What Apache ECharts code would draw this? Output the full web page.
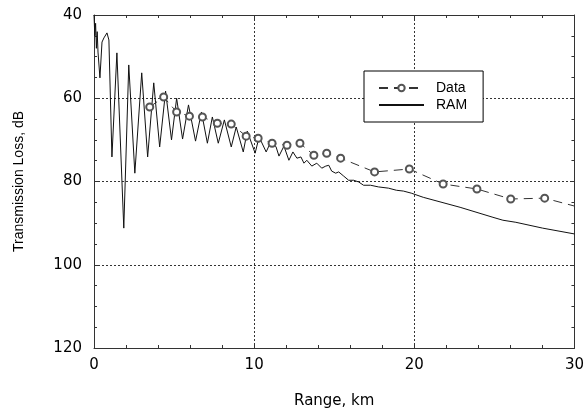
<!DOCTYPE html>
<html>
<head>
<meta charset="utf-8">
<script src="https://cdn.jsdelivr.net/npm/echarts@6/dist/echarts.min.js"></script>
<style>
    html, body { margin: 0; padding: 0; background: #fff; }
    #tlChart { width: 587px; height: 417px; }
</style>
</head>
<body>
<div id="tlChart"></div>
<script>
// measured points (range km / transmission loss dB)
var dataRange = [3.48, 4.35, 5.16, 5.96, 6.77, 7.70, 8.57, 9.50, 10.25, 11.12, 12.05, 12.86,
    13.73, 14.53, 15.40, 17.52, 19.69, 21.80, 23.91, 26.02, 28.14, 30.0];
var dataLoss = [62.1, 59.7, 63.3, 64.3, 64.5, 66.0, 66.2, 69.1, 69.6, 70.8, 71.3, 70.8,
    73.7, 73.2, 74.4, 77.7, 77.0, 80.6, 81.8, 84.2, 84.0, 85.9];

// RAM model curve
var ramRange = [0.0, 0.05, 0.1, 0.15, 0.2, 0.25, 0.37, 0.50, 0.62, 0.81, 0.93, 1.12, 1.43, 1.55,
    1.86, 2.17, 2.55, 2.98, 3.35, 3.73, 4.10, 4.47, 4.84, 5.16, 5.53, 5.90, 6.34, 6.71, 7.08,
    7.39, 7.76, 8.14, 8.57, 8.88, 9.32, 9.57, 10.06, 10.31, 10.75, 11.06, 11.37, 11.55, 11.86,
    12.17, 12.42, 12.67, 12.92, 13.11, 13.29, 13.60, 13.91, 14.22, 14.47, 14.66, 14.84, 15.09,
    15.28, 15.59, 15.90, 16.21, 16.52, 16.83, 17.27, 17.76, 18.39, 18.88, 19.32, 19.81, 20.56,
    22.86, 24.91, 25.53, 26.34, 28.01, 30.0];
var ramLoss = [40.0, 45.0, 42.0, 48.0, 44.0, 48.9, 55.1, 46.5, 45.5, 44.3, 46.0, 74.1, 49.1, 49.1,
    91.2, 52.0, 78.0, 53.9, 74.1, 56.3, 71.7, 58.3, 70.0, 60.0, 69.8, 61.6, 70.3, 63.3, 70.8,
    64.5, 70.8, 65.2, 71.7, 66.9, 72.9, 67.9, 73.2, 69.3, 72.9, 70.3, 71.7, 73.9, 71.5,
    74.9, 72.9, 74.4, 74.1, 75.6, 74.9, 76.3, 75.6, 76.8, 76.3, 76.1, 77.5, 78.0,
    77.7, 78.7, 79.7, 79.7, 80.1, 80.9, 80.9, 81.3, 81.6, 82.1, 82.3, 82.8, 83.8,
    86.2, 88.6, 89.3, 89.8, 91.2, 92.6];

function pairs(xs, ys) {
    var out = [];
    for (var i = 0; i < xs.length; i++) {
        out.push([xs[i], ys[i]]);
    }
    return out;
}

var tlChart = echarts.init(document.getElementById('tlChart'));

var dataPoints = pairs(dataRange, dataLoss);
// last point only carries the dashed line to the frame
dataPoints[dataPoints.length - 1] = { value: dataPoints[dataPoints.length - 1], symbol: 'none' };

var labelFont = { color: '#000', fontFamily: 'DejaVu Sans', fontSize: 15 };
var frameLine = { show: true, onZero: false, lineStyle: { color: '#333', width: 1 } };
var tickStyle = { show: true, inside: true, length: 4, lineStyle: { color: '#333' } };
var gridDots = { show: true, lineStyle: { color: '#333', type: [2, 2], width: 1 } };

var option = {
    animation: false,
    backgroundColor: '#fff',
    grid: { left: 94, right: 10, top: 15, bottom: 69 },
    legend: {
        left: 364,
        top: 71,
        orient: 'vertical',
        padding: [10, 16, 10, 14],
        itemGap: 3,
        itemWidth: 45,
        itemHeight: 8,
        backgroundColor: '#fff',
        borderColor: '#000',
        borderWidth: 1,
        borderRadius: 0,
        textStyle: { color: '#000', fontFamily: 'Liberation Sans', fontSize: 14, lineHeight: 14, padding: [0, 0, 0, 7] },
        data: [
            { name: 'Data', itemStyle: { borderWidth: 1 } },
            { name: 'RAM', itemStyle: { opacity: 0 } }
        ]
    },
    xAxis: [
        {
            type: 'value',
            min: 0,
            max: 30,
            interval: 10,
            name: 'Range, km',
            nameLocation: 'middle',
            nameGap: 46,
            nameTextStyle: labelFont,
            axisLine: frameLine,
            axisTick: tickStyle,
            minorTick: { show: true, splitNumber: 5, length: 3, lineStyle: { color: '#333' } },
            axisLabel: { margin: 10, color: '#000', fontFamily: 'DejaVu Sans', fontSize: 15 },
            splitLine: gridDots
        },
        {
            type: 'value',
            position: 'top',
            min: 0,
            max: 30,
            interval: 10,
            axisLine: frameLine,
            axisTick: tickStyle,
            minorTick: { show: true, splitNumber: 5, length: 3, lineStyle: { color: '#333' } },
            axisLabel: { show: false },
            splitLine: { show: false }
        }
    ],
    yAxis: [
        {
            type: 'value',
            inverse: true,
            min: 40,
            max: 120,
            interval: 20,
            name: 'Transmission Loss, dB',
            nameLocation: 'middle',
            nameGap: 68,
            nameTextStyle: { color: '#000', fontFamily: 'Liberation Sans', fontSize: 14 },
            axisLine: frameLine,
            axisTick: tickStyle,
            minorTick: { show: true, splitNumber: 4, length: 3, lineStyle: { color: '#333' } },
            axisLabel: { margin: 12, color: '#000', fontFamily: 'DejaVu Sans', fontSize: 15 },
            splitLine: gridDots
        },
        {
            type: 'value',
            position: 'right',
            inverse: true,
            min: 40,
            max: 120,
            interval: 20,
            axisLine: frameLine,
            axisTick: tickStyle,
            minorTick: { show: true, splitNumber: 4, length: 3, lineStyle: { color: '#333' } },
            axisLabel: { show: false },
            splitLine: { show: false }
        }
    ],
    series: [
        {
            name: 'RAM',
            type: 'line',
            symbol: 'none',
            color: '#111',
            lineStyle: { color: '#111', width: 1 },
            data: pairs(ramRange, ramLoss),
            z: 2
        },
        {
            name: 'Data',
            type: 'line',
            symbol: 'emptyCircle',
            symbolSize: 7,
            showSymbol: true,
            showAllSymbol: true,
            color: '#555',
            itemStyle: { color: '#555', borderColor: '#555', borderWidth: 1 },
            lineStyle: { color: '#333', width: 1, type: [9, 6] },
            data: dataPoints,
            z: 3
        }
    ]
};

tlChart.setOption(option);
</script>
</body>
</html>
